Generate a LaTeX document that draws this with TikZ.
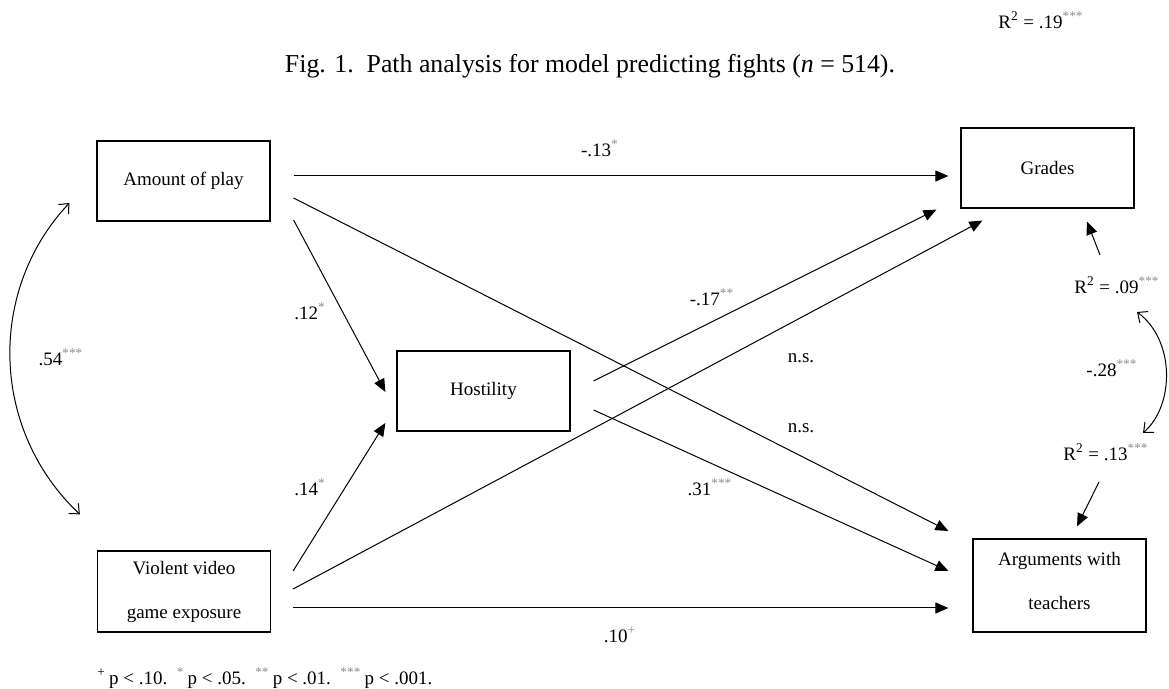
\documentclass[tikz,border=0pt]{standalone}
\usepackage{fontspec}
\setmainfont{Liberation Serif}
\usetikzlibrary{arrows.meta}

\definecolor{stargray}{gray}{0.55}
\newcommand{\sig}[1]{\textsuperscript{\textcolor{stargray}{#1}}}

\begin{document}
\begin{tikzpicture}[x=0.5pt, y=-0.5pt, >={Triangle[length=6.5pt,width=5.5pt]},
  every node/.style={font=\fontsize{9.5}{22}\selectfont, inner sep=0pt},
  varbox/.style={draw, line width=0.6pt, align=center, minimum width=86.5pt, minimum height=40pt},
  effect/.style={->, line width=0.5pt},
  corr/.style={{Straight Barb[length=4pt,width=7pt]}-{Straight Barb[length=4pt,width=7pt]}, line width=0.5pt}]

\useasboundingbox (0,0) rectangle (1169,689);

% title
\node (r19) at (1041,20) {R\textsuperscript{2} = .19\sig{***}};
\node [font=\fontsize{12.9}{15}\selectfont] (caption) at (590,66)
  {Fig. 1.\ \ Path analysis for model predicting fights (\textit{n} = 514).};

% variables
\node [varbox] (amount) at (183.5,181) {Amount of play};
\node [varbox] (grades) at (1047.5,168) {Grades};
\node [varbox] (hostility) at (483.5,391) {Hostility};
\node [varbox, minimum height=40.5pt] (violent) at (184,591.5) {Violent video\\game exposure};
\node [varbox, minimum height=46.5pt, text depth=5pt] (arguments) at (1059.5,585.5) {Arguments with\\teachers};

% explained variance
\node (r09) at (1117,285) {R\textsuperscript{2} = .09\sig{***}};
\node (r13) at (1106,452) {R\textsuperscript{2} = .13\sig{***}};

% arrows from amount of play
\draw [effect] ([shift={(23,-5)}]amount.east) -- ([shift={(-12,8)}]grades.west);
\draw [effect] ([shift={(23,17)}]amount.east) -- ([shift={(-24,-54.5)}]arguments.west);
\draw [effect] ([shift={(23,39)}]amount.east) -- ([shift={(-11,1)}]hostility.west);

% arrows from violent video game exposure
\draw [effect] ([shift={(22,-20.5)}]violent.east) -- ([shift={(-11,32)}]hostility.west);
\draw [effect] ([shift={(22,-2.5)}]violent.east) -- ([shift={(22,12)}]grades.south west);
\draw [effect] ([shift={(22,16.5)}]violent.east) -- ([shift={(-24,22.5)}]arguments.west);

% arrows from hostility
\draw [effect] ([shift={(23,-10)}]hostility.east) -- ([shift={(-24,1)}]grades.south west);
\draw [effect] ([shift={(23,19)}]hostility.east) -- ([shift={(-24,-14.5)}]arguments.west);

% arrows from the R^2 labels
\draw [effect] ([shift={(-17,-30)}]r09.center) -- ([shift={(39.5,13)}]grades.south);
\draw [effect] ([shift={(-7,30)}]r13.center) -- ([shift={(17.5,-12)}]arguments.north);

% correlations
\draw [corr] ([shift={(-27,22)}]amount.west) .. controls +(-82,87) and +(-90,-85) .. ([shift={(-17,-36)}]violent.north west);
\draw [corr] ([shift={(20,27)}]r09.center) .. controls +(38,28) and +(32,-28) .. ([shift={(37,-19)}]r13.center);

% path coefficients
\node (c13) at (600,148) {-.13\sig{*}};
\node (c12) at (310,311) {.12\sig{*}};
\node (c14) at (310,487) {.14\sig{*}};
\node (c54) at (61,357) {.54\sig{***}};
\node (c17) at (712,297) {-.17\sig{**}};
\foreach \y [count=\i] in {358,428}
  \node (ns-\i) at (801,\y) {n.s.};
\node (c31) at (710,487) {.31\sig{***}};
\node (c10) at (620,635) {.10\sig{+}};
\node (c28) at (1112,368) {-.28\sig{***}};

% significance note
\node [anchor=west] (note) at (97,678)
  {\textsuperscript{+}\,p < .10.\ \ \sig{*}\,p < .05.\ \ \sig{**}\,p < .01.\ \ \sig{***}\,p < .001.};

\end{tikzpicture}
\end{document}
